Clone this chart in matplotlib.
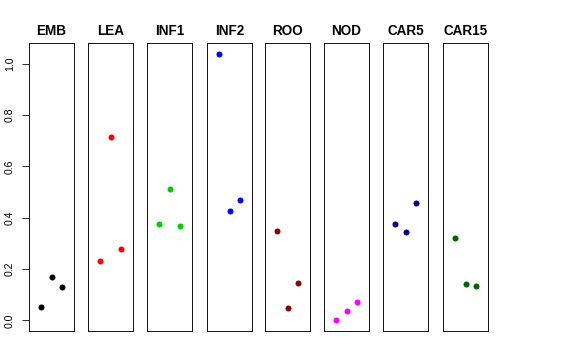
import matplotlib
matplotlib.use("Agg")
import matplotlib.pyplot as plt

plt.rcParams['font.family'] = ['Liberation Sans', 'DejaVu Sans']

# tissue panels and the three replicate values in each
tissues = ["EMB", "LEA", "INF1", "INF2", "ROO", "NOD", "CAR5", "CAR15"]
colors = ["black", "red", "#00CD00", "blue", "#8B0000", "magenta", "#00008B", "#006400"]
rep_x = [1, 2, 3]
values = {
    "EMB":   [0.051, 0.170, 0.130],
    "LEA":   [0.230, 0.714, 0.280],
    "INF1":  [0.376, 0.513, 0.366],
    "INF2":  [1.039, 0.427, 0.471],
    "ROO":   [0.349, 0.047, 0.144],
    "NOD":   [0.000, 0.037, 0.070],
    "CAR5":  [0.376, 0.343, 0.457],
    "CAR15": [0.321, 0.143, 0.135],
}
yticks = [0.0, 0.2, 0.4, 0.6, 0.8, 1.0]

W, H = 576, 360
fig = plt.figure(figsize=(W / 72, H / 72), dpi=72)

# panel placement in pixels
lefts = [29, 88, 147, 207, 265, 324, 383, 443]
pw = 45
top, bottom = 43, 331

ymin, ymax = 0.0, 1.04
ypad = (ymax - ymin) * 0.04

for i, name in enumerate(tissues):
    ax = fig.add_axes([lefts[i] / W, 1 - bottom / H, pw / W, (bottom - top) / H])
    ax.plot(rep_x, values[name], 'o', color=colors[i], markersize=6, markeredgewidth=0)
    ax.set_xlim(0 - 0.16, 4 + 0.16)
    ax.set_ylim(ymin - ypad, ymax + ypad)
    ax.set_xticks([])
    for s in ax.spines.values():
        s.set_linewidth(0.9)
        s.set_color('black')
    ax.set_title(name, fontsize=13.5, fontweight='bold', pad=8)
    if i == 0:
        ax.set_yticks(yticks)
        ax.set_yticklabels([f"{v:.1f}" for v in yticks], rotation=90, va='center', fontsize=10.5)
        ax.tick_params(axis='y', length=7, width=0.8, pad=7)
    else:
        ax.set_yticks([])

fig.savefig("out.png", dpi=72)
